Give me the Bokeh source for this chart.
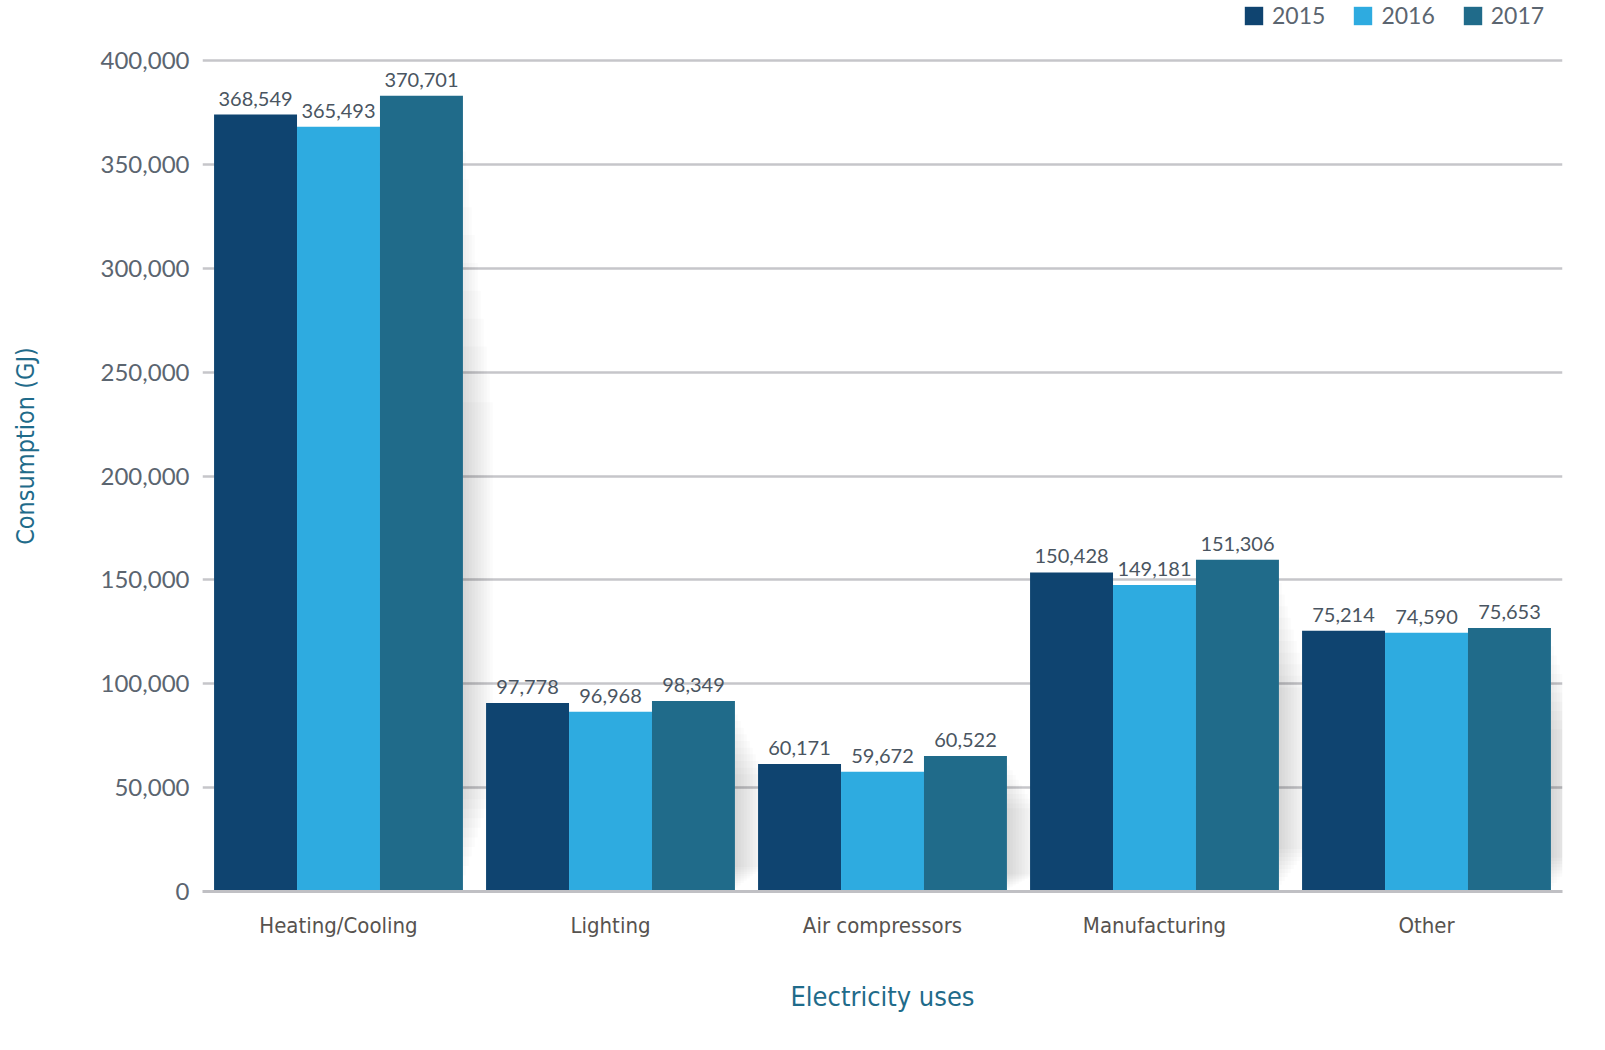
from bokeh.plotting import figure
from bokeh.models import ColumnDataSource, FactorRange, FixedTicker, NumeralTickFormatter, Legend, LegendItem, LabelSet
from bokeh.transform import dodge
from bokeh.core.properties import value
from bokeh.embed import file_html
from bokeh.resources import INLINE

categories = ["Heating/Cooling", "Lighting", "Air compressors", "Manufacturing", "Other"]
years = ["2015", "2016", "2017"]
# bar heights as drawn in the picture
bars_2015 = [374000, 90750, 61400, 153600, 125500]
bars_2016 = [368100, 86500, 57700, 147500, 124500]
bars_2017 = [383000, 91700, 65200, 159700, 126900]
# value labels printed above the bars
labels_2015 = ["368,549", "97,778", "60,171", "150,428", "75,214"]
labels_2016 = ["365,493", "96,968", "59,672", "149,181", "74,590"]
labels_2017 = ["370,701", "98,349", "60,522", "151,306", "75,653"]
y_ticks = [0, 50000, 100000, 150000, 200000, 250000, 300000, 350000, 400000]

colors = ["#0f4470", "#2eabe0", "#206b8a"]
bar_w = 0.305
offsets = [-bar_w, 0.0, bar_w]

NUM_FONT = "Lato"
COND_FONT = "DejaVu Sans Condensed"

p = figure(x_range=FactorRange(*categories, range_padding=0),
           y_range=(0, 428900),
           width=1580, height=1030,
           min_border_left=202, min_border_right=18,
           min_border_top=0, min_border_bottom=139,
           output_backend="svg", toolbar_location=None)

p.background_fill_color = "white"
p.border_fill_color = "white"
p.outline_line_color = None

# soft shadow to the right of each group (nested translucent strips)
edge = bar_w * 1.5
for k in range(10):
    w = 0.011 * (k + 1)
    src_s = ColumnDataSource(dict(cat=categories,
                                  top=[b * (0.93 - 0.035 * k) for b in bars_2017],
                                  bottom=[b * (0.02 + 0.012 * k) for b in bars_2017]))
    p.vbar(x=dodge("cat", edge + w / 2, range=p.x_range), top="top", bottom="bottom",
           width=w, source=src_s, fill_color="#000000",
           fill_alpha=0.014, line_color=None)

bar_sets = [bars_2015, bars_2016, bars_2017]
label_sets = [labels_2015, labels_2016, labels_2017]
items = []
for yr, bars, labs, col, off in zip(years, bar_sets, label_sets, colors, offsets):
    src = ColumnDataSource(dict(cat=categories, top=bars, label=labs))
    r = p.vbar(x=dodge("cat", off, range=p.x_range), top="top", width=bar_w,
               source=src, fill_color=col, line_color=None)
    lbl = LabelSet(x=dodge("cat", off, range=p.x_range), y="top", text="label", source=src,
                   text_align="center", text_baseline="alphabetic", y_offset=9,
                   text_font=value(NUM_FONT), text_font_size=value("20px"),
                   text_color=value("#4a5561"))
    p.add_layout(lbl)
    items.append(LegendItem(label=yr, renderers=[r]))

legend = Legend(items=items, orientation="horizontal", location=(1040, 862),
                margin=0, padding=0, spacing=26, label_standoff=7,
                glyph_width=23, glyph_height=23,
                label_text_font=NUM_FONT, label_text_font_size="23px",
                label_text_color="#5b6570",
                border_line_color=None, background_fill_alpha=0)
p.add_layout(legend)

# grid
p.xgrid.grid_line_color = None
p.ygrid.ticker = FixedTicker(ticks=y_ticks)
p.ygrid.grid_line_color = "#c6c6ca"
p.ygrid.grid_line_width = 2.5

# y axis
p.yaxis.ticker = FixedTicker(ticks=y_ticks)
p.yaxis.formatter = NumeralTickFormatter(format="0,0")
p.yaxis.axis_line_color = None
p.yaxis.major_tick_line_color = None
p.yaxis.minor_tick_line_color = None
p.yaxis.major_label_text_font = NUM_FONT
p.yaxis.major_label_text_font_size = "24px"
p.yaxis.major_label_text_color = "#5b6570"
p.yaxis.major_label_standoff = 7
p.yaxis.axis_label = "Consumption (GJ)"
p.yaxis.axis_label_text_font = COND_FONT
p.yaxis.axis_label_text_font_size = "25px"
p.yaxis.axis_label_text_font_style = "normal"
p.yaxis.axis_label_text_color = "#1f6b8a"
p.yaxis.axis_label_standoff = 58

# x axis
p.xaxis.axis_line_color = "#c0c0c4"
p.xaxis.axis_line_width = 3
p.xaxis.major_tick_line_color = None
p.xaxis.minor_tick_line_color = None
p.xaxis.major_label_text_font = COND_FONT
p.xaxis.major_label_text_font_size = "22px"
p.xaxis.major_label_text_color = "#57534f"
p.xaxis.major_label_standoff = 15
p.xaxis.axis_label = "Electricity uses"
p.xaxis.axis_label_text_font = COND_FONT
p.xaxis.axis_label_text_font_size = "27px"
p.xaxis.axis_label_text_font_style = "normal"
p.xaxis.axis_label_text_color = "#1f6b8a"
p.xaxis.axis_label_standoff = 40

with open("out.html", "w") as f:
    f.write(file_html(p, INLINE))
